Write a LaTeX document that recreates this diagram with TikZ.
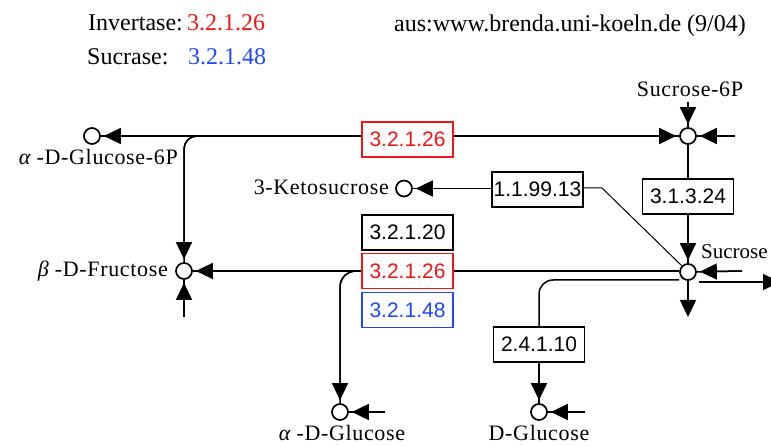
\documentclass[tikz,border=0pt]{standalone}
\usepackage{fontspec}
\setmainfont{Liberation Serif}
\newfontfamily\labfont[LetterSpace=3]{Liberation Serif}
\newfontfamily\numfont{Liberation Sans}
\usetikzlibrary{arrows.meta}
\pgfdeclarelayer{bg}
\pgfsetlayers{bg,main}
\definecolor{ecred}{RGB}{240,20,20}
\definecolor{ecblue}{RGB}{30,70,250}
\begin{document}
\begin{tikzpicture}[x=1pt,y=-1pt,
  met/.style={circle,draw,fill=white,line width=1.7pt,minimum size=16pt,inner sep=0pt},
  ec/.style={draw,fill=white,line width=1.4pt,minimum width=91pt,minimum height=35pt,inner sep=0pt,font=\numfont\fontsize{21}{24}\selectfont},
  lab/.style={inner sep=0pt,font=\labfont\fontsize{22}{26}\selectfont},
  ttl/.style={inner sep=0pt,anchor=base west,font=\fontsize{24}{28}\selectfont},
  conn/.style={line width=1.5pt},
  arr/.style={conn,-{Triangle[width=16pt,length=17pt]},shorten >=3pt,
    postaction={draw,line width=1.5pt,-,shorten >=0pt}},
  arrnos/.style={conn,-{Triangle[width=16pt,length=17pt]}},
]
\useasboundingbox (0,0) rectangle (771,446);
% metabolites
\node[met] (g6p) at (92,136) {};
\node[met] (s6p) at (688,136) {};
\node[met] (keto) at (404,188.5) {};
\node[met] (fru) at (184,271) {};
\node[met] (suc) at (688,272) {};
\node[met] (aglc) at (340,412) {};
\node[met] (dglc) at (539,412) {};
% enzyme boxes
\node[ec,draw=ecred,text=ecred] (r1) at (407.5,139.5) {3.2.1.26};
\node[ec] (k) at (537.5,189.5) {1.1.99.13};
\node[ec] (p) at (688,196.5) {3.1.3.24};
\node[ec] (e20) at (407.5,232.5) {3.2.1.20};
\node[ec,draw=ecred,text=ecred] (e26) at (407.5,271) {3.2.1.26};
\node[ec,draw=ecblue,text=ecblue] (e48) at (407.5,310) {3.2.1.48};
\node[ec] (t) at (539,344.5) {2.4.1.10};
% labels
\node[lab,anchor=base east] (lg6p) at (178,165) {{\itshape α} -D-Glucose-6P};
\node[lab,anchor=base] (ls6p) at (690,97) {Sucrose-6P};
\node[lab,anchor=base east] (lketo) at (389,195) {3-Ketosucrose};
\node[lab,anchor=base east] (lfru) at (168,277) {{\itshape β} -D-Fructose};
\node[inner sep=0pt,anchor=base west,font=\fontsize{21}{24}\selectfont] (lsuc) at (701,259) {Sucrose};
\node[lab,anchor=base] (laglc) at (342,440) {{\itshape α} -D-Glucose};
\node[lab,anchor=base] (ldglc) at (539,440) {D-Glucose};
% title
\node[ttl] (inv) at (88,31) {Invertase:};
\node[ttl,text=ecred] (invn) at (187,31) {3.2.1.26};
\node[ttl] (sucr) at (87,65) {Sucrase:};
\node[ttl,text=ecblue] (sucrn) at (188,65) {3.2.1.48};
\node[ttl] (src) at (394,32) {aus:www.brenda.uni-koeln.de (9/04)};
% free ends
\coordinate (br1) at (200,136);
\coordinate (kink) at (602,188);
\coordinate (s6ptop) at (688,102);
\coordinate (s6pright) at (735,136);
\coordinate (sucright) at (742,271);
\coordinate (sucout0) at (699,282);
\coordinate (sucout) at (780,282);
\coordinate (sucdown) at (688,317);
\coordinate (sucl) at (679,280);
\coordinate (frubot) at (184,317);
\coordinate (aglcr) at (385,412);
\coordinate (dglcr) at (585,412);
\begin{pgfonlayer}{bg}
\fill[white] (0,0) rectangle (771,446);
\draw[arr] (r1.west |- g6p) -- (g6p);
\draw[arr] (r1.east |- s6p) -- (s6p);
\draw[arr,rounded corners=13pt] (br1) -| (fru);
\draw[arr] (s6ptop) -- (s6p);
\draw[arr] (s6pright) -- (s6p);
\draw[conn] (s6p) -- (p);
\draw[arr] (p) -- (suc);
\draw[line width=1pt] (suc.north west) -- (kink) -- (k.east |- kink);
\draw[arr] (k.west |- keto) -- (keto);
\draw[arr] (e26.west) -- (fru);
\draw[conn] (suc.west |- e26) -- (e26.east);
\draw[arr,rounded corners=16pt] (e26.west) -| (aglc);
\draw[conn,rounded corners=14pt] (sucl) -| (t.north);
\draw[arr] (t) -- (dglc);
\draw[arrnos] (sucout0) -- (sucout);
\draw[arrnos] (suc.south) -- (sucdown);
\draw[arr] (sucright) -- (suc);
\draw[arr] (frubot) -- (fru);
\draw[arr] (aglcr) -- (aglc);
\draw[arr] (dglcr) -- (dglc);
\end{pgfonlayer}
\end{tikzpicture}
\end{document}
